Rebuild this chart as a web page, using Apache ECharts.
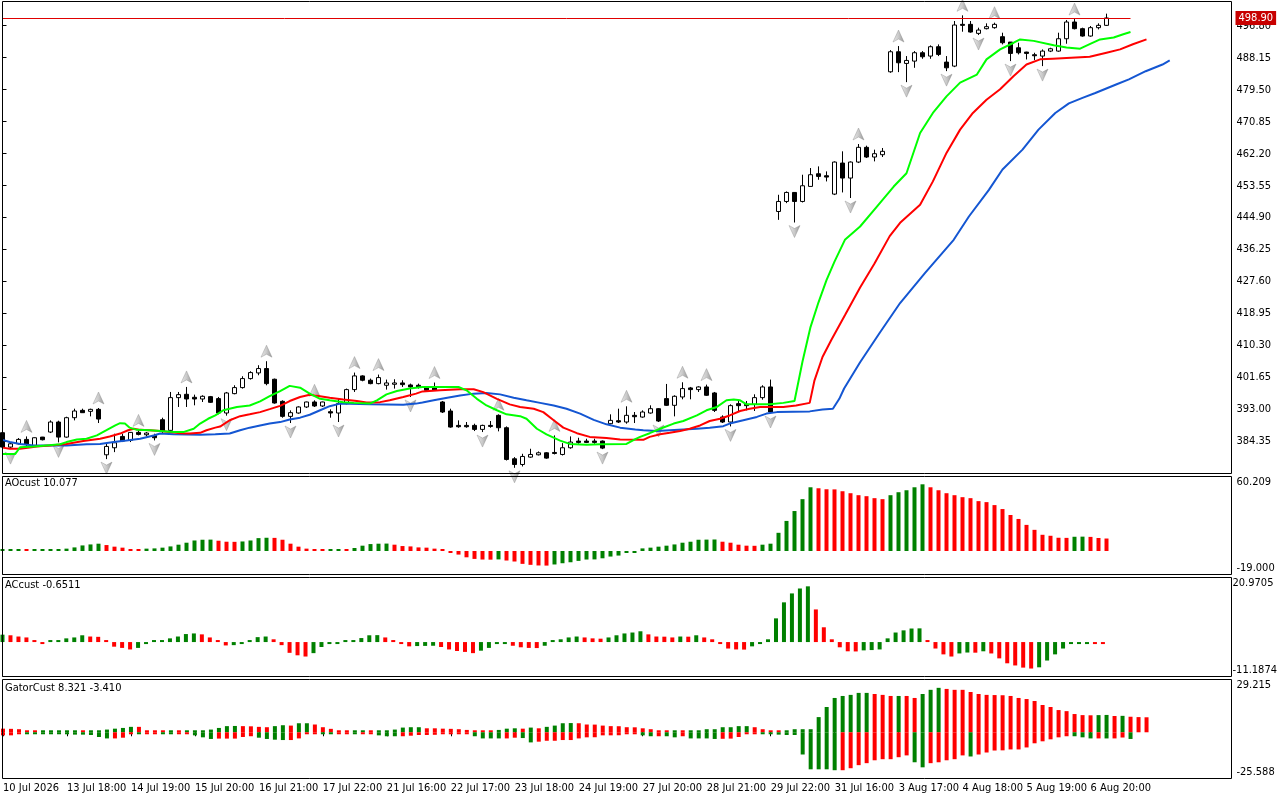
<!DOCTYPE html>
<html><head><meta charset="utf-8">
<script src="https://cdn.jsdelivr.net/npm/echarts@6/dist/echarts.min.js"></script>
<style>html,body{margin:0;padding:0;background:#fff}#c{width:1280px;height:800px}</style>
</head><body><div id="c"></div>
<script>
const FONT = "'Liberation Sans Narrow','DejaVu Sans Condensed','Liberation Sans',Arial,sans-serif";
const GREEN = '#008000', RED = '#ff0000';

// x-axis tick labels, one every 8 bars starting at bar 0
const xLabels = ['10 Jul 2026','13 Jul 18:00','14 Jul 19:00','15 Jul 20:00','16 Jul 21:00','17 Jul 22:00','21 Jul 16:00','22 Jul 17:00','23 Jul 18:00','24 Jul 19:00','27 Jul 20:00','28 Jul 21:00','29 Jul 22:00','31 Jul 16:00','3 Aug 17:00','4 Aug 18:00','5 Aug 19:00','6 Aug 20:00'];
const LABEL_STEP = 8;
const priceTicks = [384.35,393.00,401.65,410.30,418.95,427.60,436.25,444.90,453.55,462.20,470.85,479.50,488.15,496.80];
const priceRange = [375.70, 503.35];
const aoRange = [-19.000, 60.209];
const acRange = [-11.1874, 20.9705];
const gatorRange = [-25.588, 29.215];
const bidPrice = 498.90;
const bidLineEnd = 141;

// candles: [open, high, low, close]
const candles = [
[386.73,386.91,382.66,382.84],[382.84,384.20,382.30,383.74],[383.74,385.28,383.56,384.92],[384.92,385.73,383.02,383.56],[383.29,385.46,383.02,385.37],
[385.55,385.60,384.65,384.83],[386.91,390.07,386.64,389.62],[389.62,389.98,384.11,385.55],[385.55,391.06,385.37,390.79],[390.79,393.23,390.07,392.60],
[392.78,393.23,392.06,392.15],[392.51,393.23,391.15,393.05],[393.05,393.41,389.35,390.43],[380.76,383.74,379.59,383.02],[382.66,386.46,381.48,384.01],
[385.73,386.46,384.20,384.47],[384.65,386.91,384.20,386.82],[386.82,387.36,386.00,386.27],[386.18,386.91,385.73,386.64],[386.00,386.46,384.65,385.37],
[390.25,390.79,386.64,387.18],[387.36,397.75,387.18,396.22],[396.22,397.75,393.69,397.03],[397.12,399.11,393.69,395.85],[396.31,397.03,394.14,395.85],
[395.85,396.85,395.04,396.58],[396.49,396.67,394.77,394.95],[395.95,396.40,391.70,392.06],[392.06,397.75,391.34,397.48],[397.30,399.56,397.12,398.93],
[398.93,402.00,398.66,401.37],[401.37,403.36,401.10,402.99],[402.90,404.98,402.27,404.08],[404.08,406.07,399.56,400.01],[401.19,401.37,394.59,394.77],
[395.22,395.49,390.79,391.15],[391.15,392.78,389.35,392.15],[392.06,393.87,391.88,393.69],[393.69,395.13,393.41,395.04],[395.04,395.49,393.69,393.96],
[393.96,395.13,393.69,395.04],[392.42,393.05,390.79,392.06],[392.06,395.95,389.62,394.59],[394.59,398.66,394.41,398.39],[398.39,402.99,397.75,402.09],
[402.09,402.27,400.64,400.92],[400.92,401.37,399.83,400.01],[400.01,402.45,399.83,401.64],[399.56,401.10,398.39,400.19],[399.83,401.19,398.66,400.19],
[400.19,400.92,399.11,399.74],[399.65,400.01,396.40,399.11],[399.56,400.01,398.66,399.11],[398.84,399.11,398.02,398.20],[398.84,400.30,398.02,398.20],
[395.04,395.31,392.06,392.33],[392.60,393.23,388.08,388.26],[388.71,390.07,388.08,388.35],[388.71,389.62,388.08,388.35],[388.71,389.17,387.18,387.63],
[387.63,388.90,386.91,388.71],[388.71,389.89,388.08,388.44],[391.43,391.70,387.10,388.08],[388.08,388.44,379.22,379.50],[379.68,380.13,377.24,378.14],
[378.14,381.03,377.60,380.31],[380.13,382.39,379.95,380.85],[380.76,381.66,380.58,381.30],[381.30,381.48,379.68,379.86],[381.39,386.00,380.85,381.12],
[380.85,383.92,380.58,382.66],[382.66,385.73,382.39,384.20],[384.47,385.37,383.74,384.11],[384.47,385.10,383.92,384.11],[384.47,385.10,383.74,384.11],
[384.47,384.65,382.30,382.57],[389.17,391.70,388.99,390.07],[389.98,393.23,389.35,389.62],[389.62,393.87,389.17,391.43],[391.43,392.33,389.35,391.06],
[390.97,392.78,390.79,392.33],[392.06,394.14,391.88,393.23],[393.23,393.41,389.62,389.89],[395.95,399.92,393.96,394.14],[394.14,396.85,391.15,396.58],
[396.40,400.37,395.76,398.66],[398.84,399.11,395.76,398.39],[398.39,399.29,397.75,399.11],[399.11,399.74,396.67,396.85],[397.48,397.75,392.33,392.78],
[390.97,391.43,389.35,389.62],[389.62,394.41,388.44,394.05],[394.59,395.49,392.60,394.05],[394.41,395.31,392.78,394.05],[394.41,397.12,392.60,396.22],
[396.22,399.56,395.67,399.11],[399.11,401.10,392.06,392.33],[446.56,451.08,444.30,449.27],[449.27,451.98,448.82,451.71],[451.71,451.80,443.58,449.27],
[449.27,456.50,449.00,453.52],[453.34,458.31,453.34,456.50],[456.77,458.76,455.14,456.05],[456.23,457.40,454.69,455.87],[451.26,460.11,451.00,459.93],
[459.66,462.83,451.71,455.60],[455.60,460.11,450.20,459.93],[459.93,464.81,459.66,463.91],[463.91,464.36,461.02,461.29],[461.29,463.28,460.11,462.19],
[461.92,463.73,461.29,462.83],[484.34,490.21,484.07,489.76],[489.76,491.30,484.25,486.78],[486.60,488.59,481.54,487.41],[487.23,489.94,485.42,489.49],
[489.49,489.94,487.86,488.40],[488.59,491.48,487.86,491.12],[491.12,491.75,488.59,489.04],[486.96,488.59,484.52,485.42],[485.88,498.07,485.60,496.99],
[497.17,499.61,495.18,496.90],[497.17,498.07,494.91,495.09],[494.73,496.27,494.28,495.63],[496.00,497.44,495.81,496.54],[496.27,497.62,496.00,497.17],
[493.83,494.91,491.75,492.20],[492.38,492.38,487.23,489.31],[490.84,492.20,489.04,489.49],[489.67,489.76,487.68,489.31],[488.95,489.49,487.50,488.68],
[488.59,490.39,485.88,489.94],[489.94,490.84,489.67,490.57],[489.94,494.91,489.76,493.28],[493.28,498.35,491.93,497.80],[497.80,498.60,495.81,496.00],
[496.00,496.27,493.83,494.01],[494.01,496.72,493.83,496.27],[496.27,497.44,495.81,496.90],[496.90,500.06,496.72,498.90]
];

const upFractals = [3,12,17,23,33,39,44,47,54,62,69,78,85,88,107,112,120,124,134];
const downFractals = [1,7,13,19,28,36,42,51,60,64,75,82,91,96,99,106,113,118,122,126,130];

// Alligator lines: [bar position, price]
const lipsPts = [[0,381.0],[1.6,381.0],[2.2,382.8],[3.9,383.0],[5.5,383.3],[7.2,383.6],[8,384.2],[9.3,384.9],[10.5,385.1],[11.8,386.0],[13,387.4],[14.1,388.7],[14.7,389.3],[15.3,389.2],[15.9,388.1],[16.8,387.5],[18.4,387.4],[19.7,387.2],[21.4,386.9],[22.6,386.9],[23.9,387.8],[24.7,389.2],[25.7,390.5],[26.6,391.4],[27.6,392.8],[29.3,393.7],[30.9,394.1],[32.2,395.2],[33.4,396.6],[34.7,398.0],[35.9,399.4],[37.2,398.9],[38.4,397.3],[39.7,395.9],[40.9,395.5],[42.6,395.0],[43.9,394.8],[45.9,394.6],[46.8,395.5],[48,397.1],[49.3,398.0],[50.9,398.7],[52.5,399.1],[57,399.1],[58,398.2],[59.3,395.9],[60.5,394.1],[61.8,392.8],[63,391.7],[64.7,391.2],[65.5,390.5],[66.8,387.8],[68,386.3],[69.7,384.6],[70.9,383.7],[73,383.5],[74.7,383.6],[78,383.7],[79.1,385.0],[79.7,385.6],[80.9,386.6],[82.2,387.8],[83.9,389.2],[85.1,389.9],[86.8,391.4],[88,392.8],[89.3,393.7],[90.5,395.5],[91.4,395.7],[92.2,395.5],[93,394.4],[95.9,394.4],[97.6,394.8],[99,395.3],[100,406.0],[101,415.3],[102,422.0],[103,428.0],[104,433.0],[105.3,438.9],[107.2,442.5],[109.3,447.9],[111.4,453.3],[113,456.9],[114.7,467.8],[116.3,473.2],[118,477.7],[119.7,481.4],[121.8,483.6],[123,487.7],[124.7,490.4],[126.4,492.2],[127.2,493.1],[128.9,492.7],[131.4,491.5],[133,490.9],[134.7,490.6],[135.9,491.8],[137.2,493.1],[138.9,493.6],[140.1,494.5],[141,495.1]];
const teethPts = [[0,382.7],[0.9,382.4],[2.2,382.4],[3.4,382.7],[4.3,383.0],[5.9,383.3],[8,383.7],[10.1,384.5],[12.2,385.1],[13.4,385.7],[14.7,386.5],[15.7,387.4],[16.4,387.8],[17.2,387.5],[18.4,387.4],[19.7,387.2],[20.9,386.9],[22.2,386.6],[23.4,386.5],[24.7,386.7],[25.5,387.4],[26.6,388.1],[27.2,388.4],[28.4,390.1],[29.7,391.2],[30.9,391.7],[32.2,392.3],[33.4,393.1],[34.7,394.0],[35.9,395.3],[37.2,396.4],[38.4,397.0],[39.7,396.6],[40.9,396.2],[42.6,395.7],[44.3,395.3],[45.5,394.9],[46.3,394.9],[47.2,395.0],[48.4,395.5],[50.1,396.4],[51.7,397.3],[52.5,397.9],[54.7,398.2],[57.2,398.5],[58.9,398.5],[60.1,397.7],[61.8,395.9],[63.4,394.4],[64.7,393.7],[66.4,393.2],[67.6,392.3],[68.9,390.1],[70.1,388.1],[71.8,386.6],[73.4,385.6],[75.5,385.3],[77.2,384.9],[80.1,384.8],[80.9,385.6],[82.2,386.3],[83.4,386.7],[84.7,387.2],[85.9,387.8],[87.2,388.7],[88.4,389.9],[89.7,390.5],[90.9,391.4],[92.2,392.6],[93.4,393.2],[94.7,393.7],[97.6,393.7],[99.2,394.1],[100.9,394.8],[101.5,400.9],[102.5,407.2],[103.6,411.8],[105.3,418.5],[107.2,426.0],[109,432.5],[110.9,439.9],[112.2,443.5],[114.7,448.4],[116.3,454.7],[118,462.4],[119.7,468.7],[121.3,473.2],[123,476.8],[124.7,479.6],[126.4,483.2],[128,486.3],[129.7,487.7],[131.3,487.9],[133,488.1],[135.9,488.4],[138,489.5],[139.7,490.4],[141.3,491.8],[143,493.1]];
const jawPts = [[0,384.8],[0.9,384.2],[2.2,383.7],[3.9,383.3],[8,383.3],[10.5,383.6],[12.2,383.7],[13.9,384.2],[15.5,384.6],[17.2,385.1],[18.9,386.0],[19.7,386.5],[21.4,386.3],[24.7,386.2],[26.6,386.3],[28.4,386.5],[29.7,387.4],[30.9,388.1],[32.2,388.7],[33.4,389.2],[34.7,389.6],[35.9,390.3],[37.2,390.8],[38.4,391.6],[39.7,392.8],[40.9,393.9],[42.2,394.6],[45.9,394.4],[50.1,394.3],[51.7,394.6],[52.5,394.9],[53.9,395.5],[55.6,396.2],[57.2,396.8],[58.9,397.3],[60.5,397.5],[62.2,397.1],[63.9,396.2],[65.5,395.5],[67.2,394.8],[68.9,394.1],[70.5,393.2],[72.2,391.9],[73.9,390.2],[75.5,389.0],[77.2,388.1],[79.1,387.6],[80.1,387.4],[81.8,387.2],[83.4,387.4],[85.1,387.6],[86.8,387.8],[88.4,388.1],[90.1,388.5],[90.9,389.2],[92.6,390.1],[94.3,391.0],[95.5,391.9],[96.8,392.3],[100.9,392.5],[102.5,393.0],[103.8,393.2],[104.6,395.9],[105.2,398.7],[107.2,405.8],[109.7,413.9],[112.2,421.8],[115.3,429.9],[118.9,438.9],[120.8,445.2],[123.3,452.4],[125,457.9],[127.5,463.3],[129.5,468.7],[131.6,473.2],[133.3,475.8],[135,477.3],[136.6,478.6],[139.2,480.9],[140.8,482.3],[142.9,484.5],[145,486.3],[145.9,487.4]];

// Awesome Oscillator
const aoValues = [0.3,0.3,0.3,0.2,0.3,0.3,0.4, 1.3,1.9,2.9,4.5,5.3,5.9, 4.8,3.5,2.7,0.6,0.3, 1.9,2.1,2.7,3.7,5.1,6.7,8.5,9.1,9.2, 8.3,7.5,7.4, 7.7,8.5,10.4,10.7, 10.6,9.1,5.9,3.5,1.9,0.5,0.4, 0.5,0.6, 0.5, 2.4,4.3,5.6,5.9,6.0, 5.1,4.0,3.7,2.9,2.7,1.9,0.4,-0.3,-2.9,-5.1,-6.4,-6.9,-7.0, -6.8, -7.7,-8.5,-10.4,-11.2,-11.7,-11.8, -10.9,-9.9,-9.1,-8.0,-6.9,-6.8,-5.9,-4.5,-3.7,-1.0,-0.3,2.1,2.7,3.5,4.3,5.3,6.7,7.5,9.1,9.2,9.3, 7.5,6.7,5.1,4.3,4.2, 5.1,5.9,14.7,24.3,32.3,41.9,51.5, 50.7,49.9,49.8,48.3,46.7,45.1,44.3,42.7,41.9, 45.1,47.5,49.1,51.5,53.9, 51.5,49.1,46.7,45.1,43.5,42.7,40.3,39.5,37.1,33.9,29.1,25.9,21.1,17.1,13.1,12.3,10.7,10.6, 11.5,11.6, 11.4,10.5,10.077];
const aoDir = 'gggrggg gggggg rrrrr ggggggggg rrr gggg rrrrrrr gg r ggggg rrrrrrrrrrrrr g rrrrrr ggggggggggggggggggggg rrrrr ggggggg rrrrrrrrr ggggg rrrrrrrrrrrrrrrrrr gg rrr'.replace(/ /g,'').split('');

// Accelerator Oscillator
const acValues = [2.4, 2.2,1.8,1.5,0.3,-0.1, 0.4,0.5,1.2,1.5,2.2, 1.8,1.7,0.3,-1.5,-1.9,-2.4, -1.9,-0.2,0.2,0.4,1.2,1.8,2.6,2.8, 2.5,1.5,0.2,-1.1, -1.0,-0.3,0.4,1.6,1.8, 0.9,-1.0,-3.5,-4.3,-4.7, -3.6,-1.6,-0.4,-0.2,0.05,0.4,1.3,2.2,2.25, 1.5,0.1,-0.6,-1.4, -1.3,-1.25,-1.2, -1.6,-2.4,-2.9,-3.2,-3.6, -2.8,-1.9,-0.4,-0.3, -1.2,-1.7,-1.9,-1.95, -1.2,0.3,0.9,1.5,1.8, 1.5,1.2,1.1, 1.5,2.2,2.8,3.1,3.5, 2.5,1.8,1.75,1.5, 1.8, 1.75, 2.2, 1.5,0.9,-0.6,-2.1,-2.4,-2.45, -1.4,-0.2,0.9,7.7,12.9,15.8,17.4,18.1, 10.6,4.8,0.9,-1.7,-3.0,-3.05, -2.7,-2.6,-2.4,1.2,3.1,3.8,4.4,4.45, 0.5,-2.1,-4.0,-4.7, -3.7,-3.4, -3.45, -3.0, -3.7,-5.3,-6.9,-7.6,-8.3,-8.6, -8.2,-6.0,-4.0,-2.1,-0.2,-0.15,-0.1, -0.2,-0.6511];
const acDir = 'g rrrrr ggggg rrrrrr gggggggg rrrr ggggg rrrrr ggggggggg rrrr ggg rrrrr gggg rrrr ggggg rrr ggggg rrrr g r g rrrrrr gggggggg rrrrrr gggggggg rrrr gg r g rrrrrr ggggggg rr'.replace(/ /g,'').split('');

// Gator Oscillator (upper = positive, lower = negative)
const gatorUp = [2.0,1.9,1.7,1.1,0.3, 0.2,0.2,0.2,0.3,0.3, 0.2, 0.5,0.9,1.5,2.0,2.4,3.0, 3.0,1.1,0.9,0.4, 0.4, 0.4, 0.5,0.7,0.7,1.5,2.4,3.4,3.5, 3.4,3.3,3.0,2.8, 3.4,3.9, 3.7, 5.0,5.0, 4.3,2.8,1.9,1.1,0.9, 1.1,1.1, 0.6, 0.7,0.9,1.5,2.6,2.8,2.8, 2.2,2.2,2.0,1.9,1.7,1.3,1.1,0.5,0.2, 1.3,2.0,2.2, 2.0, 2.6, 2.2, 3.0,3.7,5.0,5.1, 5.0,4.3,4.25,3.7,3.4,3.35,2.8,2.75,2.2,1.7,0.6,0.1, 0.15, 0.6, 0.6,1.1,1.7,1.7,2.8,2.8,3.4,3.4, 2.8,1.7,1.1,1.1, 1.1,1.7,1.7,1.7,8.4,14.0,19.0,20.1,20.7,21.8,21.8, 21.2,20.7,20.1, 20.1, 20.1,19.0, 21.2,23.5,24.6, 24.0,23.5,23.5,22.3,21.2,20.7,20.6,20.5,20.1,19.0,18.4,17.3,15.1,14.0,12.3,11.7,10.1,9.5,9.4, 9.5,9.6, 9.0, 9.1, 8.6,8.4,8.3];
const gatorUpDir = 'rrrrr ggggg r gggggg rrrr g r ggggggg rrrr gg r gg rrrrr gg r gggggg rrrrrrrrr ggg r g r gggg rrrrrrrrrrrr g r gggggggg rrrr ggggggggggg rrr g rr ggg rrrrrrrrrrrrrrrrrrr gg r g rrr'.replace(/ /g,'').split('');
const gatorDown = [-1.7,-1.7,-0.2, -0.9,-0.2,-0.2,-0.2,-0.2,-0.3,-1.3,-1.3,-1.5,-2.6,-3.4, -3.4,-3.0,-0.4, -0.9, -0.3,-0.2, -0.2,-0.3, -0.3,-0.3, -1.7,-2.8,-3.7, -3.5,-3.5,-3.5,-2.6,-2.2, -3.0,-3.7,-4.1,-4.3, -4.3,-3.4,-0.9,-0.2, -1.1,-0.6, -0.7,-0.4, -0.9, -0.6,-0.4, -1.7,-2.2,-2.2, -2.2,-1.9,-1.5,-1.5,-1.4,-1.1,-0.9,-0.6,-0.4, -2.2,-3.4,-3.4,-3.4, -3.4,-3.0, -3.2,-5.6, -5.2,-4.7,-4.7,-4.3,-4.3,-3.4,-2.8,-2.75,-1.7,-1.7,-1.65,-1.1,-0.6, -1.7,-2.2, -2.2, -2.2,-2.8, -2.2, -3.4,-3.4,-3.4,-3.7, -3.6,-3.5,-2.6,-0.9,-0.9, -0.9,-1.0,-1.3,-1.5,-1.5,-12.3,-20.5,-20.5,-20.5,-21.0, -21.0,-19.9,-18.2,-17.1,-15.5,-14.9,-14.9,-13.8,-12.8, -16.6,-19.4, -17.1,-16.6,-15.5,-14.9,-12.8, -13.4, -12.3,-11.2,-10.1,-10.0,-9.5,-9.5,-8.4,-6.1,-5.0,-3.9,-2.8,-2.2, -2.2,-2.8,-3.4, -3.4, -3.41, -3.4,-2.9, -3.7];
const gatorDownDir = 'rrr ggggggggggg rrr g rr gg rr ggg rrrrr gggg rrrr gg rr g rr ggg rrrrrrrrr gggg rr gg rrrrrrrrrrrrr gg r gg r gggg rrrrr gggggggggg rrrrrrrrr gg rrrrr g rrrrrrrrrrrr ggg r g rr g'.replace(/ /g,'').split('');

const XMAX = 153.625;
const labelIdx = xLabels.map((_, k) => k * LABEL_STEP);
const col = d => d === 'g' ? GREEN : RED;
const barData = (vals, dirs) => vals.map((v, i) => ({ value: [i, v], itemStyle: { color: col(dirs[i]) } }));

const grids = [
  { left: 2.5, top: 1.5, width: 1229, height: 472 },
  { left: 2.5, top: 476.5, width: 1229, height: 98 },
  { left: 2.5, top: 577.5, width: 1229, height: 99 },
  { left: 2.5, top: 679.5, width: 1229, height: 99 }
];
const txt = { color: '#000', fontSize: 11, fontFamily: FONT };
function xAx(i, show) {
  return {
    type: 'value', gridIndex: i, min: 0, max: XMAX, show: show,
    axisLine: { show: false }, splitLine: { show: false },
    axisTick: { show: show, length: 4, customValues: labelIdx, lineStyle: { color: '#000' } },
    axisLabel: { show: show, customValues: labelIdx, align: 'left', margin: 4, ...txt,
      formatter: v => xLabels[Math.round(v / LABEL_STEP)] || '' }
  };
}
function yAx(i, range, ticks, fmt) {
  return {
    type: 'value', gridIndex: i, position: 'right', min: range[0], max: range[1], scale: true,
    axisLine: { show: false }, splitLine: { show: false },
    axisTick: { show: true, length: 4, customValues: ticks, lineStyle: { color: '#000' } },
    axisLabel: { show: true, customValues: ticks, margin: 5, lineHeight: 12, ...txt, formatter: fmt }
  };
}
const edgeFmt = (dec) => v => (v > 0 ? '\n' + v.toFixed(dec) : v.toFixed(dec) + '\n');

const arrowColor = { type: 'linear', x: 0, y: 0, x2: 1, y2: 0,
  colorStops: [{ offset: 0, color: '#e4e4e4' }, { offset: 0.5, color: '#bcbcbc' }, { offset: 1, color: '#7c7c7c' }] };

const option = {
  animation: false,
  backgroundColor: '#fff',
  grid: grids,
  xAxis: [xAx(0, false), xAx(1, false), xAx(2, false), xAx(3, true)],
  yAxis: [
    yAx(0, priceRange, priceTicks, v => v.toFixed(2)),
    yAx(1, aoRange, [aoRange[1], aoRange[0]], edgeFmt(3)),
    yAx(2, acRange, [acRange[1], acRange[0]], edgeFmt(4)),
    yAx(3, gatorRange, [gatorRange[1], gatorRange[0]], edgeFmt(3))
  ],
  title: [
    { text: 'AOcust ' + aoValues[aoValues.length - 1].toFixed(3), left: 5, top: 478, padding: 0, textStyle: { ...txt, fontWeight: 'normal' } },
    { text: 'ACcust ' + acValues[acValues.length - 1].toFixed(4), left: 5, top: 580, padding: 0, textStyle: { ...txt, fontWeight: 'normal' } },
    { text: 'GatorCust 8.321 -3.410', left: 5, top: 683, padding: 0, textStyle: { ...txt, fontWeight: 'normal' } }
  ],
  graphic: grids.map(g => ({
    type: 'rect', silent: true, z: 100,
    shape: { x: g.left, y: g.top, width: g.width, height: g.height },
    style: { fill: 'none', stroke: '#000', lineWidth: 1 }
  })),
  series: [
    {
      type: 'candlestick', xAxisIndex: 0, yAxisIndex: 0, barWidth: 5,
      data: candles.map((c, i) => [i, c[0], c[3], c[2], c[1]]),
      itemStyle: { color: '#fff', color0: '#000', borderColor: '#000', borderColor0: '#000', borderWidth: 1 },
      markLine: {
        silent: true, symbol: 'none', animation: false,
        lineStyle: { color: '#e00000', width: 1, type: 'solid' },
        label: { show: false },
        data: [
          [{ coord: [0, bidPrice] }, { coord: [bidLineEnd, bidPrice] }],
          { yAxis: bidPrice, lineStyle: { color: 'rgba(255,255,255,0)', width: 1 },
            label: { show: true, position: 'end', distance: 4, formatter: bidPrice.toFixed(2), opacity: 1,
              backgroundColor: '#c80000', color: '#ffffff', padding: [2, 3, 1, 3], fontSize: 11, fontFamily: FONT } }
        ]
      }
    },
    { type: 'line', xAxisIndex: 0, yAxisIndex: 0, data: jawPts, showSymbol: false, lineStyle: { color: '#1456d2', width: 2 } },
    { type: 'line', xAxisIndex: 0, yAxisIndex: 0, data: teethPts, showSymbol: false, lineStyle: { color: '#ff0000', width: 2 } },
    { type: 'line', xAxisIndex: 0, yAxisIndex: 0, data: lipsPts, showSymbol: false, lineStyle: { color: '#00ff00', width: 2 } },
    {
      type: 'scatter', xAxisIndex: 0, yAxisIndex: 0, clip: false,
      symbol: 'path://M5,0 L10,12 L5,9 L0,12 Z', symbolSize: [11, 12], symbolOffset: [0, -10],
      itemStyle: { color: arrowColor, borderColor: '#8a8a8a', borderWidth: 0.5 },
      data: upFractals.map(i => [i, candles[i][1]])
    },
    {
      type: 'scatter', xAxisIndex: 0, yAxisIndex: 0, clip: false,
      symbol: 'path://M0,0 L5,3 L10,0 L5,12 Z', symbolSize: [11, 12], symbolOffset: [0, 9],
      itemStyle: { color: arrowColor, borderColor: '#8a8a8a', borderWidth: 0.5 },
      data: downFractals.map(i => [i, candles[i][2]])
    },
    { type: 'bar', xAxisIndex: 1, yAxisIndex: 1, barWidth: 4, barMinHeight: 2, data: barData(aoValues, aoDir) },
    { type: 'bar', xAxisIndex: 2, yAxisIndex: 2, barWidth: 4, barMinHeight: 2, data: barData(acValues, acDir) },
    { type: 'bar', xAxisIndex: 3, yAxisIndex: 3, barWidth: 4, barMinHeight: 2, barGap: '-100%', data: barData(gatorUp, gatorUpDir) },
    { type: 'bar', xAxisIndex: 3, yAxisIndex: 3, barWidth: 4, barMinHeight: 2, barGap: '-100%', data: barData(gatorDown, gatorDownDir) }
  ]
};
const chart = echarts.init(document.getElementById('c'), null, { renderer: 'canvas' });
chart.setOption(option);
</script></body></html>
